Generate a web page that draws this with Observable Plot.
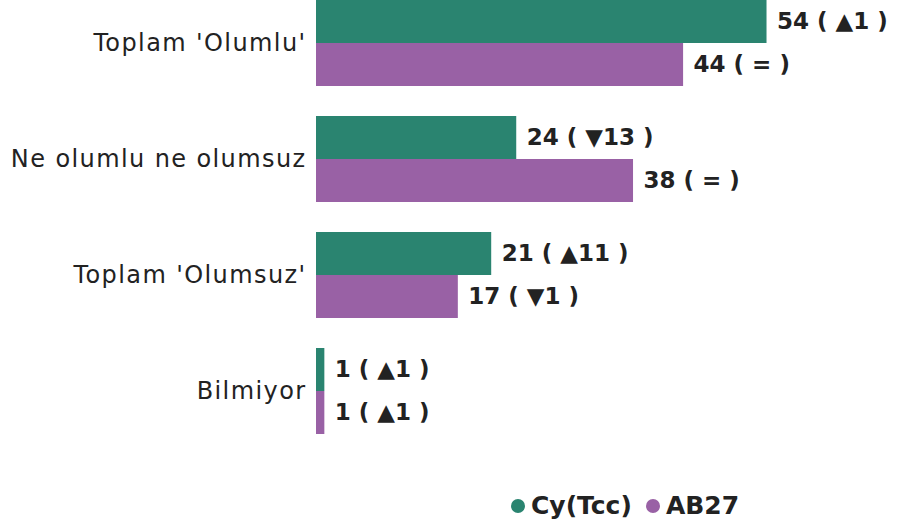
<!DOCTYPE html>
<html><head><meta charset="utf-8">
<script src="https://cdn.jsdelivr.net/npm/d3@7"></script>
<script src="https://cdn.jsdelivr.net/npm/@observablehq/plot@0.6"></script>
<style>
body{margin:0;background:#fff;font-family:"DejaVu Sans",sans-serif;}
#legend{display:flex;align-items:center;margin-left:511px;margin-top:21px;font-weight:bold;font-size:25px;color:#222;}
#legend .sw{width:14px;height:14px;border-radius:50%;display:inline-block;margin-right:6px;}
#legend .it{display:flex;align-items:center;margin-right:14px;}
.fyax text{letter-spacing:1.4px;}
</style></head><body>
<div id="chart"></div>
<div id="legend"></div>
<script>
const categories = ["Toplam 'Olumlu'", "Ne olumlu ne olumsuz", "Toplam 'Olumsuz'", "Bilmiyor"];
const series = ["Cy(Tcc)", "AB27"];
const colors = ["#2a8470", "#9961a5"];
const cyValues = [54, 24, 21, 1];
const abValues = [44, 38, 17, 1];
const cyChanges = ["▲1", "▼13", "▲11", "▲1"];
const abChanges = ["=", "=", "▼1", "▲1"];

const data = [];
categories.forEach((c, i) => {
  data.push({cat: c, s: series[0], v: cyValues[i], ch: cyChanges[i]});
  data.push({cat: c, s: series[1], v: abValues[i], ch: abChanges[i]});
});

const chart = Plot.plot({
  width: 908,
  height: 470,
  marginLeft: 316,
  marginRight: 8,
  marginTop: 0,
  marginBottom: 36,
  style: {fontFamily: "DejaVu Sans, sans-serif"},
  x: {domain: [0, 70], axis: null},
  y: {domain: series, axis: null, padding: 0},
  fy: {domain: categories, label: null, paddingInner: 0.26, paddingOuter: 0},
  color: {domain: series, range: colors},
  axis: null,
  marks: [
    Plot.axisFy({anchor: "left", tickSize: 0, tickPadding: 10, fontSize: 24, label: null, fill: "#222", className: "fyax"}),
    Plot.barX(data, {fy: "cat", y: "s", x: "v", fill: "s"}),
    Plot.text(data, {fy: "cat", y: "s", x: "v", text: d => `${d.v} ( ${d.ch} )`, textAnchor: "start", dx: 10, fontSize: 23, fontWeight: "bold", fill: "#222"})
  ]
});
document.getElementById("chart").appendChild(chart);

const lg = document.getElementById("legend");
series.forEach((s, i) => {
  const it = document.createElement("span");
  it.className = "it";
  const sw = document.createElement("span");
  sw.className = "sw";
  sw.style.background = colors[i];
  it.appendChild(sw);
  it.appendChild(document.createTextNode(s));
  lg.appendChild(it);
});
</script>
</body></html>
